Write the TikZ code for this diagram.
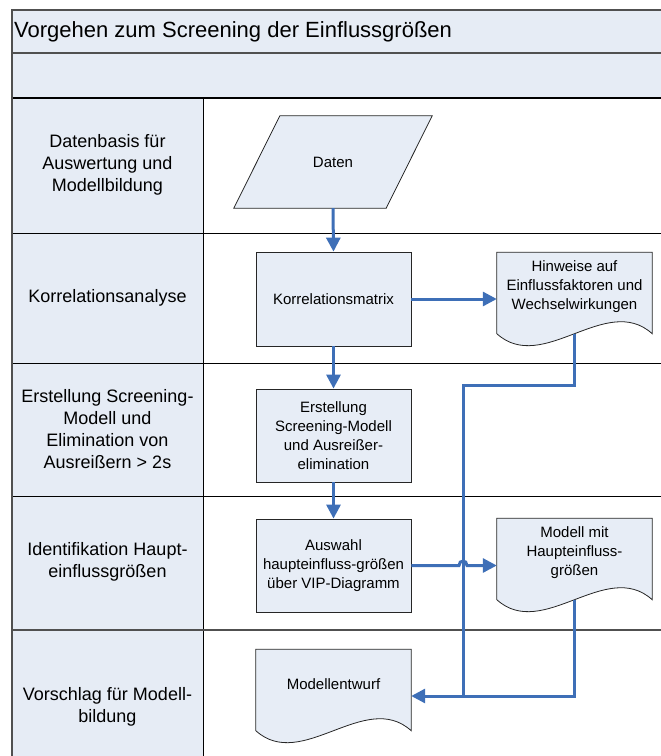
\documentclass[tikz,border=0pt]{standalone}
\usepackage{fontspec}
\setmainfont{Liberation Sans}
\usetikzlibrary{arrows.meta,calc,backgrounds}
\definecolor{paneFill}{RGB}{230,236,245}
\definecolor{shapeFill}{RGB}{231,237,246}
\definecolor{flowBlue}{RGB}{62,111,183}
\definecolor{frameGray}{RGB}{80,80,80}

\begin{document}
\begin{tikzpicture}[x=1pt,y=-1pt,
  lanelabel/.style={align=center,inner sep=0pt,font=\fontsize{18}{22}\selectfont},
  titletext/.style={anchor=west,inner sep=0pt,font=\fontsize{22}{26}\selectfont},
  procbox/.style={draw=black!85,line width=0.8pt,fill=shapeFill,minimum width=155pt,
    minimum height=93pt,align=center,inner sep=0pt,font=\fontsize{15}{19}\selectfont},
  docbox/.style={minimum width=155pt,minimum height=69pt,align=center,inner sep=0pt,
    font=\fontsize{15}{19}\selectfont},
  databox/.style={minimum width=152pt,minimum height=92pt,align=center,inner sep=0pt,
    font=\fontsize{15}{19}\selectfont},
  outline/.style={draw=black!85,line width=0.8pt,fill=shapeFill},
  flow/.style={draw=flowBlue,line width=3pt},
  flowarrow/.style={flow,-{Triangle[length=14pt,width=14pt]}},
  laneline/.style={draw=black,line width=0.8pt},
  frameline/.style={draw=frameGray,line width=2pt}
]
\useasboundingbox (0,0) rectangle (661,756);
\clip (0,0) rectangle (661,756);

% swimlane frame
\fill[paneFill] (12,10) rectangle (680,98);
\fill[paneFill] (12,98) rectangle (203,780);
\draw[laneline] (203,98) -- (203,780);
\draw[laneline] (12,233) -- (680,233);
\draw[laneline] (12,363) -- (680,363);
\draw[laneline] (12,496) -- (680,496);
\draw[draw=frameGray,line width=1.3pt] (12,630) -- (680,630);
\draw[draw=frameGray,line width=1.6pt] (12,53) -- (680,53);
\draw[draw=black,line width=1.6pt] (12,98) -- (680,98);
\draw[frameline] (12,780) -- (12,10) -- (680,10);

\node[titletext] (title) at (14,31.5) {Vorgehen zum Screening der Einflussgrößen};

% lane labels
\node[lanelabel] (lab1) at (107.5,165) {Datenbasis für\\Auswertung und\\Modellbildung};
\node[lanelabel] (lab2) at (107.5,298) {Korrelationsanalyse};
\node[lanelabel] (lab3) at (107.5,429) {Erstellung Screening-\\Modell und\\Elimination von\\Ausreißern > 2s};
\node[lanelabel] (lab4) at (107.5,562) {Identifikation Haupt-\\einflussgrößen};
\node[lanelabel] (lab5) at (107.5,707) {Vorschlag für Modell-\\bildung};

% process steps
\node[databox] (daten) at (333,162) {Daten};
\node[procbox,minimum height=94pt] (korr) at (333.5,299) {Korrelationsmatrix};
\node[procbox] (erst) at (333.5,435.5) {Erstellung\\Screening-Modell\\und Ausreißer-\\elimination};
\node[procbox] (ausw) at (333.5,565.5) {Auswahl\\haupteinfluss-größen\\über VIP-Diagramm};

% documents
\node[docbox] (hin) at (574.5,287) {Hinweise auf\\Einflussfaktoren und\\Wechselwirkungen};
\node[docbox] (modell) at (574.5,553) {Modell mit\\Haupteinfluss-\\größen};
\node[docbox] (entwurf) at (333.5,684) {Modellentwurf};

\begin{scope}[on background layer]
  \path[outline] ([xshift=23pt]daten.north west) -- ([xshift=23pt]daten.north east)
    -- ([xshift=-23pt]daten.south east) -- ([xshift=-23pt]daten.south west) -- cycle;
  \foreach \d in {hin,modell,entwurf}{
    \path[outline] (\d.north west) -- (\d.north east) -- ([yshift=-12pt]\d.south east)
      .. controls +(-46,-41.5) and +(46,41.5) .. ([yshift=-12pt]\d.south west) -- cycle;
  }
\end{scope}

\coordinate (hinb) at ([yshift=-12pt]hin.south);
\coordinate (modb) at ([yshift=-12pt]modell.south);
\coordinate (bus) at (463,696);
\coordinate (hop) at (ausw.east -| bus);

% connectors
\draw[flowarrow] (daten.south) -- (korr.north);
\draw[flowarrow] (korr.east) -- (korr.east -| hin.west);
\draw[flowarrow] (korr.south) -- (erst.north);
\draw[flowarrow] (erst.south) -- (ausw.north);
\draw[flowarrow] (hinb) -- ++(0,52) -| (bus) -- (bus -| entwurf.east);
\draw[flow] (modb) |- (bus);
\draw[flowarrow] (ausw.east) -- ([xshift=-4pt]hop) .. controls +(0,-6) and +(0,-6) ..
  ([xshift=4pt]hop) -- (ausw.east -| modell.west);
\end{tikzpicture}
\end{document}
